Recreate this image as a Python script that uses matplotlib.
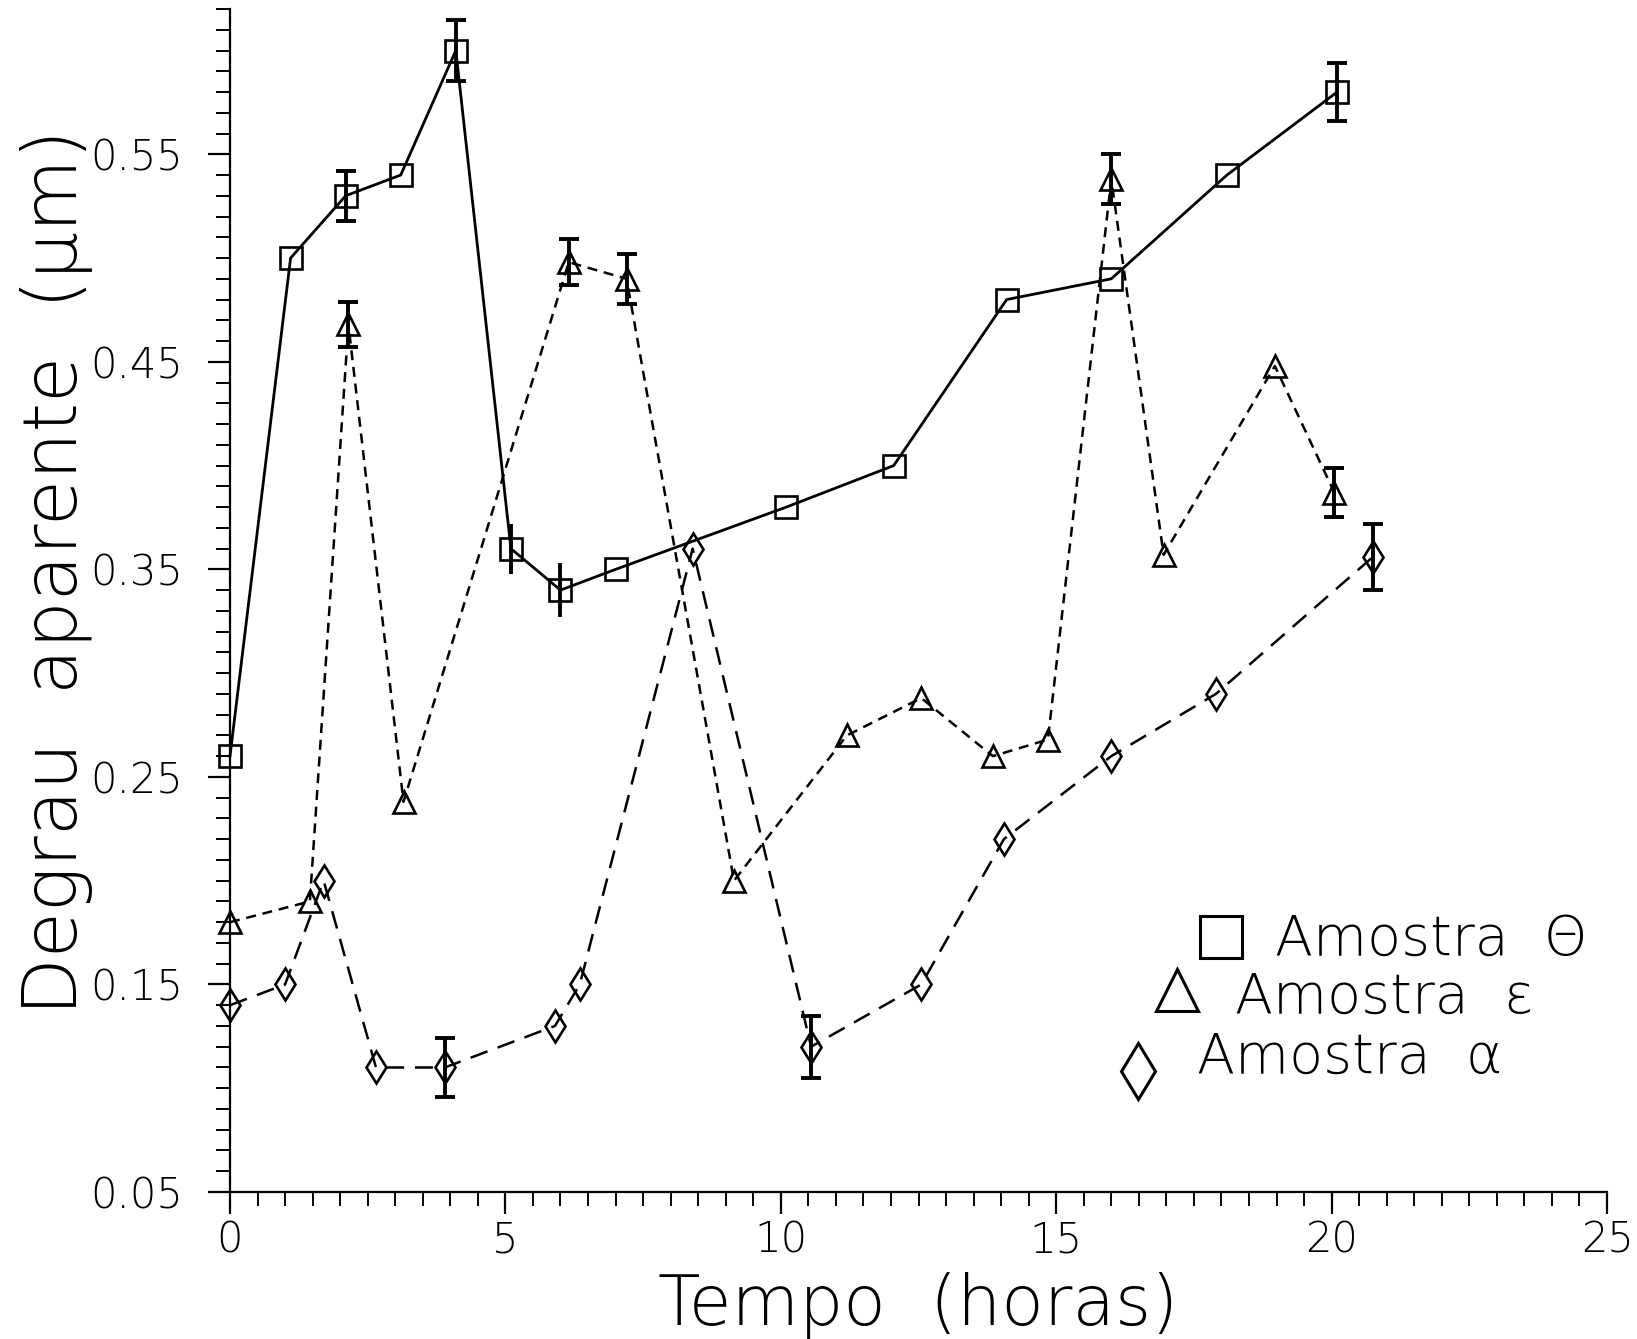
import numpy as np
import matplotlib.pyplot as plt
from matplotlib.lines import Line2D

# DATA
# Amostra Theta - squares, solid line
t_theta = [0, 1.1, 2.1, 3.1, 4.1, 5.1, 6.0, 7.0, 10.1, 12.05, 14.1, 16.0, 18.1, 20.1]
y_theta = [0.26, 0.50, 0.53, 0.54, 0.60, 0.36, 0.34, 0.35, 0.38, 0.40, 0.48, 0.49, 0.54, 0.58]
e_theta = [0, 0, 0.012, 0, 0.0145, 0, 0, 0, 0, 0, 0, 0, 0, 0.014]
e_theta_nocap = [0, 0, 0, 0, 0, 0.012, 0.013, 0, 0, 0, 0, 0, 0, 0]

# Amostra epsilon - triangles, short dashes
t_eps = [0, 1.45, 2.15, 3.15, 6.15, 7.2, 9.15, 11.2, 12.55, 13.85, 14.85, 16.0, 16.95, 18.97, 20.05]
y_eps = [0.18, 0.19, 0.468, 0.238, 0.498, 0.49, 0.20, 0.27, 0.288, 0.26, 0.268, 0.538, 0.357, 0.448, 0.387]
e_eps = [0, 0, 0.011, 0, 0.011, 0.012, 0, 0, 0, 0, 0, 0.012, 0, 0, 0.012]

# Amostra alpha - diamonds, long dashes
t_alpha = [0, 1.0, 1.7, 2.65, 3.9, 5.9, 6.35, 8.4, 10.55, 12.55, 14.05, 16.0, 17.9, 20.75]
y_alpha = [0.14, 0.15, 0.20, 0.11, 0.11, 0.13, 0.15, 0.36, 0.12, 0.15, 0.22, 0.26, 0.29, 0.356]
e_alpha = [0, 0, 0, 0, 0.014, 0, 0, 0, 0.015, 0, 0, 0, 0, 0.016]

yticks = [0.05, 0.15, 0.25, 0.35, 0.45, 0.55]
xticks = [0, 5, 10, 15, 20, 25]

plt.rcParams['font.family'] = ['DejaVu Sans']
plt.rcParams['font.weight'] = 'light'

W, H = 1637, 1339
fig = plt.figure(figsize=(W / 100, H / 100), dpi=100)
ax = fig.add_axes([230 / W, 1 - 1192 / H, (1607 - 230) / W, 1183 / H])


def errs(ax, t, y, e, cap):
    t = np.array(t)
    y = np.array(y)
    e = np.array(e)
    m = e > 0
    ax.errorbar(t[m], y[m], yerr=e[m], fmt='none', ecolor='k', elinewidth=2.8,
                capsize=cap, capthick=2.8, clip_on=False, zorder=4)


# SQUARES
ax.plot(t_theta, y_theta, color='k', lw=2.0, marker='s', ms=15.5, mfc='none',
        mec='k', mew=1.9, clip_on=False, zorder=3)
errs(ax, t_theta, y_theta, e_theta, 7)
errs(ax, t_theta, y_theta, e_theta_nocap, 0)

# TRIANGLES
ax.plot(t_eps, y_eps, color='k', lw=1.8, dashes=(4.0, 2.7), marker='^', ms=16.5,
        mfc='none', mec='k', mew=1.9, clip_on=False, zorder=3)
errs(ax, t_eps, y_eps, e_eps, 7)

# DIAMONDS
ax.plot(t_alpha, y_alpha, color='k', lw=1.8, dashes=(7.2, 4.3), marker='d', ms=16.3,
        mfc='none', mec='k', mew=1.9, clip_on=False, zorder=3)
errs(ax, t_alpha, y_alpha, e_alpha, 7)

# AXES
ax.set_xlim(0, 25)
ax.set_ylim(0.05, 0.62)
ax.spines['top'].set_visible(False)
ax.spines['right'].set_visible(False)
ax.spines['left'].set_linewidth(1.6)
ax.spines['bottom'].set_linewidth(1.6)

ax.set_xticks(xticks)
ax.set_xticklabels([str(v) for v in xticks])
ax.set_xticks(np.arange(0, 25.01, 0.5), minor=True)
ax.set_yticks(yticks)
ax.set_yticklabels(['%.2f' % v for v in yticks])
ax.set_yticks(np.arange(0.05, 0.6201, 0.01), minor=True)
ax.tick_params(which='major', length=16, width=1.6, labelsize=30, direction='out')
ax.tick_params(which='minor', length=10, width=1.4, direction='out')
ax.tick_params(axis='y', pad=18)
ax.tick_params(axis='x', pad=4)

fig.text(918 / W, 1 - 1305 / H, 'Tempo  (horas)', fontsize=50, ha='center', va='center')
fig.text(57 / W, 1 - 572 / H, 'Degrau  aparente  (μm)', fontsize=54, rotation=90,
         ha='center', va='center')

# LEGEND (staggered, drawn by hand)
leg = [
    ('s', 30, 1221, 937, 1275, 955, 'Amostra  Θ'),
    ('^', 30, 1177, 990, 1235, 1013, 'Amostra  ε'),
    ('d', 29, 1138, 1071, 1197, 1073, 'Amostra  α'),
]
for mk, ms, mx, my, tx, ty, txt in leg:
    fig.add_artist(Line2D([mx / W], [1 - my / H], marker=mk, ms=ms, mfc='none',
                          mec='k', mew=2.2, transform=fig.transFigure))
    fig.text(tx / W, 1 - ty / H, txt, fontsize=40, ha='left', va='baseline')

plt.savefig('out.png', dpi=100)
